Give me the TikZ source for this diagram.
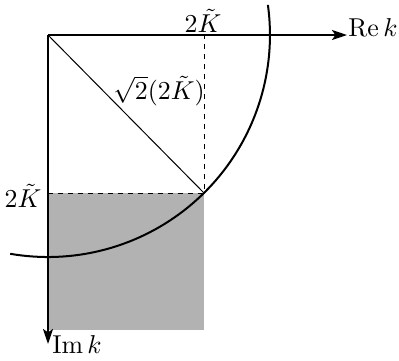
\documentclass[tikz,border=0pt]{standalone}
\usetikzlibrary{arrows.meta}
\begin{document}
\begin{tikzpicture}[x=0.6pt,y=0.6pt,
  axis/.style={line width=1.2pt,-{Stealth[length=9pt,width=6pt,inset=2pt]}},
  guide/.style={dashed,line width=0.4pt},
  arcline/.style={line width=1.2pt},
  lbl/.style={inner sep=0pt,scale=1.55,transform shape}]
\useasboundingbox (0,0) rectangle (399,-360);
\coordinate (O) at (48,-35);
\coordinate (A) at (204,-193);
\coordinate (X) at (204,-35);
\coordinate (Y) at (48,-193);
\coordinate (R) at (347,-35);
\coordinate (I) at (48,-344);
\coordinate (S) at (204,-330);
\coordinate (T) at (267.9,-4.9);
\fill[black!30] (Y) rectangle (S);
\draw[guide] (Y) -- (A) -- (X);
\draw[line width=0.6pt] (O) -- (A);
\draw[arcline] (T) arc[start angle=7.8, end angle=-99.8, radius=222];
\draw[axis] (O) -- (R);
\draw[axis] (O) -- (I);
\node[lbl] (kx) at (203,-21) {$2\tilde{K}$};
\node[lbl] (re) at (373,-28) {$\mathrm{Re}\,k$};
\node[lbl] (diag) at (159,-91) {$\sqrt{2}(2\tilde{K})$};
\node[lbl] (ky) at (23,-196) {$2\tilde{K}$};
\node[lbl] (im) at (77,-345) {$\mathrm{Im}\,k$};
\end{tikzpicture}
\end{document}
